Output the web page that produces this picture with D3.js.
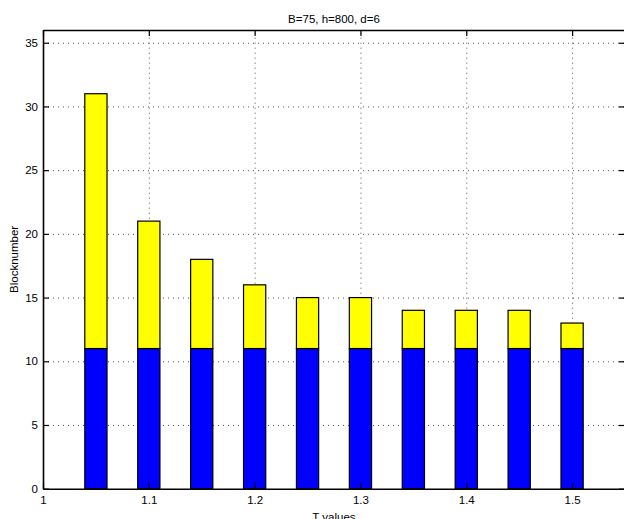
<!DOCTYPE html>
<html>
<head>
<meta charset="utf-8">
<script src="https://cdn.jsdelivr.net/npm/d3@7"></script>
<style>
    body { margin: 0; background: #fff; }
    svg { display: block; font-family: "Liberation Sans", Arial, sans-serif; }
</style>
</head>
<body>
<div id="chart"></div>
<script>
// chart data
let tValues = [1.05, 1.1, 1.15, 1.2, 1.25, 1.3, 1.35, 1.4, 1.45, 1.5];
let baseBlocks = [11, 11, 11, 11, 11, 11, 11, 11, 11, 11];
let extraBlocks = [20, 10, 7, 5, 4, 4, 3, 3, 3, 2];
let xTicks = [1, 1.1, 1.2, 1.3, 1.4, 1.5];
let yTicks = [0, 5, 10, 15, 20, 25, 30, 35];
let barWidth = 0.021;

let chartW = 624, chartH = 519;
let margin = {top: 30, right: -1, bottom: 30.3, left: 43};
let plotW = chartW - margin.left - margin.right;
let plotH = chartH - margin.top - margin.bottom;

let svg = d3.select("#chart").append("svg")
    .attr("width", chartW)
    .attr("height", chartH);

let g = svg.append("g")
    .attr("transform", "translate(" + margin.left + "," + margin.top + ")");

let x = d3.scaleLinear().domain([1, 1.55]).range([0, plotW]);
let y = d3.scaleLinear().domain([0, 36]).range([plotH, 0]);

// grid lines (dotted)
g.append("g")
    .attr("class", "grid")
    .attr("transform", "translate(0," + plotH + ")")
    .call(d3.axisBottom(x).tickValues(xTicks.slice(1)).tickSize(-plotH).tickFormat(""))
    .call(a => a.select(".domain").remove());
g.append("g")
    .attr("class", "grid")
    .call(d3.axisLeft(y).tickValues(yTicks.slice(1)).tickSize(-plotW).tickFormat(""))
    .call(a => a.select(".domain").remove());
g.selectAll(".grid line")
    .attr("stroke", "#555")
    .attr("stroke-width", 1)
    .attr("stroke-dasharray", "1,4");

// stacked bars
let rows = tValues.map(function (t, i) {
    return {t: t, base: baseBlocks[i], extra: extraBlocks[i]};
});
let stack = d3.stack().keys(["base", "extra"])(rows);
let colors = {base: "#0000ff", extra: "#ffff00"};

g.selectAll(".layer")
    .data(stack)
    .enter().append("g")
    .attr("class", "layer")
    .attr("fill", d => colors[d.key])
    .selectAll("rect")
    .data(d => d)
    .enter().append("rect")
    .attr("x", d => x(d.data.t - barWidth / 2))
    .attr("width", d => x(d.data.t + barWidth / 2) - x(d.data.t - barWidth / 2))
    .attr("y", d => y(d[1]))
    .attr("height", d => y(d[0]) - y(d[1]))
    .attr("stroke", "#000")
    .attr("stroke-width", 1.2);

// axes, ticks pointing inward
let axisB = g.append("g")
    .attr("transform", "translate(0," + plotH + ")")
    .call(d3.axisBottom(x).tickValues(xTicks).tickSizeInner(-6).tickSizeOuter(0).tickPadding(7)
        .tickFormat(d3.format("")));
let axisL = g.append("g")
    .call(d3.axisLeft(y).tickValues(yTicks).tickSizeInner(-6).tickSizeOuter(0).tickPadding(5));
let axisT = g.append("g")
    .call(d3.axisTop(x).tickValues(xTicks).tickSizeInner(-6).tickSizeOuter(0).tickFormat(""));
let axisR = g.append("g")
    .attr("transform", "translate(" + plotW + ",0)")
    .call(d3.axisRight(y).tickValues(yTicks).tickSizeInner(-6).tickSizeOuter(0).tickFormat(""));

[axisB, axisL, axisT, axisR].forEach(function (a) {
    a.select(".domain").attr("stroke", "#000").attr("stroke-width", 1.6);
    a.selectAll(".tick line").attr("stroke", "#000").attr("stroke-width", 1.2);
    a.selectAll("text")
        .attr("fill", "#000")
        .style("font-size", "11.5px")
        .style("font-family", "'Liberation Sans', Arial, sans-serif");
});

// title and axis labels
svg.append("text")
    .attr("x", margin.left + plotW / 2)
    .attr("y", 23)
    .attr("text-anchor", "middle")
    .style("font-size", "11.5px")
    .text("B=75, h=800, d=6");

// x label sits on the bottom edge, partly clipped as in the original figure
svg.append("text")
    .attr("x", margin.left + plotW / 2)
    .attr("y", 521)
    .attr("text-anchor", "middle")
    .style("font-size", "11.5px")
    .text("T values");

svg.append("text")
    .attr("transform", "translate(18," + (margin.top + plotH / 2) + ") rotate(-90)")
    .attr("text-anchor", "middle")
    .style("font-size", "11.5px")
    .text("Blocknumber");
</script>
</body>
</html>
